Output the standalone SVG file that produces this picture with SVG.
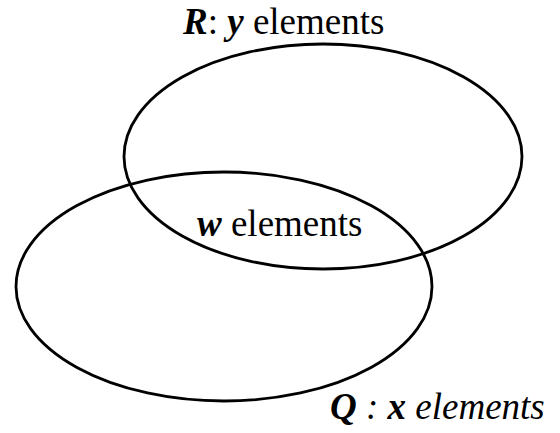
<svg xmlns="http://www.w3.org/2000/svg" width="560" height="433" viewBox="0 0 560 433">
<style>
.set{fill:none;stroke:#000;stroke-width:2.8}
.t{font-family:'Liberation Serif','Times New Roman',serif;font-size:37px;fill:#000}
.bi{font-weight:bold;font-style:italic}
.i{font-style:italic}
</style>
<rect width="560" height="433" fill="#fff"/>
<g id="setR">
<ellipse class="set" cx="323" cy="156.5" rx="199" ry="112.5"/>
<text class="t" x="183" y="34"><tspan class="bi">R</tspan>: <tspan class="bi">y</tspan> elements</text>
</g>
<g id="setQ">
<ellipse class="set" cx="224" cy="286.5" rx="208" ry="114.5"/>
<text class="t i" x="330" y="419"><tspan class="bi">Q</tspan> : <tspan class="bi">x</tspan> elements</text>
</g>
<g id="intersection">
<text class="t" x="197" y="236"><tspan class="bi">w</tspan> elements</text>
</g>
<g id="connectors"/>
</svg>
